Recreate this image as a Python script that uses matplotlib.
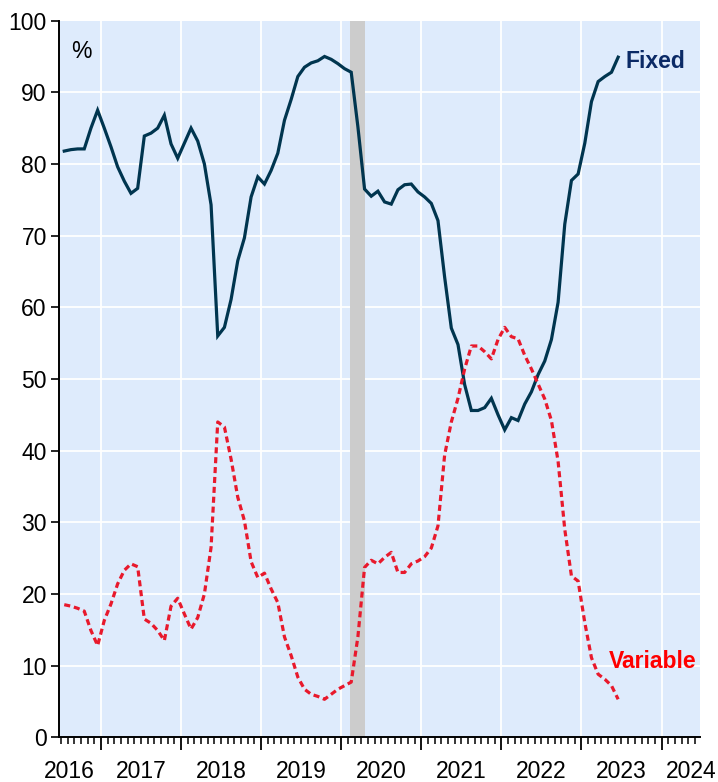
import matplotlib
matplotlib.use("Agg")
import matplotlib.pyplot as plt
from matplotlib.ticker import MultipleLocator, FixedLocator, NullFormatter
import numpy as np
import pandas as pd

plt.rcParams['font.family'] = ['Liberation Sans', 'DejaVu Sans']

# Monthly data, July 2016 - June 2023 (share of new loans, %)
start_month = "2016-07"
fixed = [81.8, 82.0, 82.1, 82.1, 85.0, 87.5, 85.0, 82.4, 79.6, 77.6, 75.9, 76.6,
         83.9, 84.3, 85.0, 86.8, 82.8, 80.8, 82.9, 85.0, 83.2, 80.0, 74.3, 56.0,
         57.2, 61.1, 66.5, 69.7, 75.4, 78.2, 77.2, 79.1, 81.5, 86.1, 89.0, 92.2,
         93.5, 94.1, 94.4, 95.0, 94.6, 94.0, 93.3, 92.8, 85.2, 76.5, 75.5, 76.2,
         74.7, 74.4, 76.4, 77.1, 77.2, 76.1, 75.4, 74.5, 72.1, 64.2, 57.1, 54.8,
         49.2, 45.6, 45.6, 46.0, 47.3, 45.0, 42.9, 44.6, 44.2, 46.5, 48.2, 50.6,
         52.5, 55.5, 60.7, 71.6, 77.7, 78.6, 82.9, 88.7, 91.5, 92.2, 92.8, 94.9]
variable = [18.5, 18.3, 18.0, 17.6, 14.9, 12.8, 16.3, 18.6, 21.4, 23.3, 24.2, 23.8,
            16.5, 15.9, 14.9, 13.5, 18.3, 19.4, 17.2, 15.1, 16.7, 20.0, 26.5, 44.0,
            43.3, 38.8, 33.5, 30.2, 24.5, 22.3, 22.9, 20.7, 18.8, 14.0, 11.4, 8.4,
            6.7, 6.0, 5.7, 5.3, 6.0, 6.7, 7.2, 7.7, 14.0, 23.7, 24.7, 24.2,
            25.1, 25.8, 23.0, 23.0, 24.2, 24.6, 25.2, 26.4, 29.5, 39.4, 44.0, 47.3,
            51.4, 54.6, 54.6, 53.8, 52.8, 55.5, 57.2, 55.9, 55.6, 53.3, 51.4, 49.3,
            47.2, 44.2, 38.5, 29.0, 22.5, 21.8, 16.0, 11.1, 8.8, 8.1, 7.2, 5.3]
years = [2016, 2017, 2018, 2019, 2020, 2021, 2022, 2023, 2024]
shade_start, shade_end = 2020.11, 2020.30   # recession band

months = pd.date_range(start_month, periods=len(fixed), freq="MS")
x = months.year + (months.month - 1 + 0.5) / 12.0

fig = plt.figure(figsize=(7.18, 7.82), dpi=100)
ax = fig.add_axes([0.0826, 0.0572, 0.8923, 0.9164])
ax.set_facecolor('#deebfc')

xmin, xmax = 2016.48, 2024.48
ax.set_xlim(xmin, xmax)
ax.set_ylim(0, 100)

# grid
ax.set_axisbelow(True)
for yv in range(10, 100, 10):
    ax.axhline(yv, color='white', lw=1.3, zorder=0.5)
for yr in years[1:]:
    ax.axvline(yr, color='white', lw=1.3, zorder=0.5)

ax.axvspan(shade_start, shade_end, color='#cccccc', lw=0, zorder=1)

ax.plot(x, fixed, color='#00354f', lw=2.3, zorder=3, solid_joinstyle='miter')
lv, = ax.plot(x, variable, color='#e8192c', lw=2.3, zorder=4)
lv.set_dashes((1.9, 1.2))

# spines
for s in ['top', 'right']:
    ax.spines[s].set_visible(False)
for s in ['left', 'bottom']:
    ax.spines[s].set_linewidth(1.4)
    ax.spines[s].set_color('black')

ax.yaxis.set_major_locator(MultipleLocator(10))
ax.tick_params(axis='y', which='major', length=6, width=1.2, pad=3,
               labelsize=16.5, direction='out')
ax.set_xticks(years[1:])
ax.xaxis.set_major_formatter(NullFormatter())
ax.xaxis.set_minor_locator(FixedLocator(
    [2016.5 + i / 12.0 for i in range(0, 97)]))
ax.tick_params(axis='x', which='major', length=9, width=1.3, direction='out')
ax.tick_params(axis='x', which='minor', length=5, width=1.1, direction='out')

# year labels centred in each year, kept inside the axis span
for yr in years:
    pos = min(max(yr + 0.5, xmin + 0.13), xmax - 0.11)
    ax.text(pos, -0.0568, str(yr), transform=ax.get_xaxis_transform(),
            ha='center', va='baseline', fontsize=16.5, clip_on=False)

ax.text(0.018, 0.973, '%', transform=ax.transAxes, fontsize=16.5,
        ha='left', va='top')
ax.text(x[-1] + 0.09, 94.3, 'Fixed', color='#0b2a66', fontsize=16.5,
        fontweight='bold', ha='left', va='center')
ax.text(2024.44, 10.6, 'Variable', color='#ff0000', fontsize=16.5,
        fontweight='bold', ha='right', va='center')

fig.savefig('out.png', dpi=100)
